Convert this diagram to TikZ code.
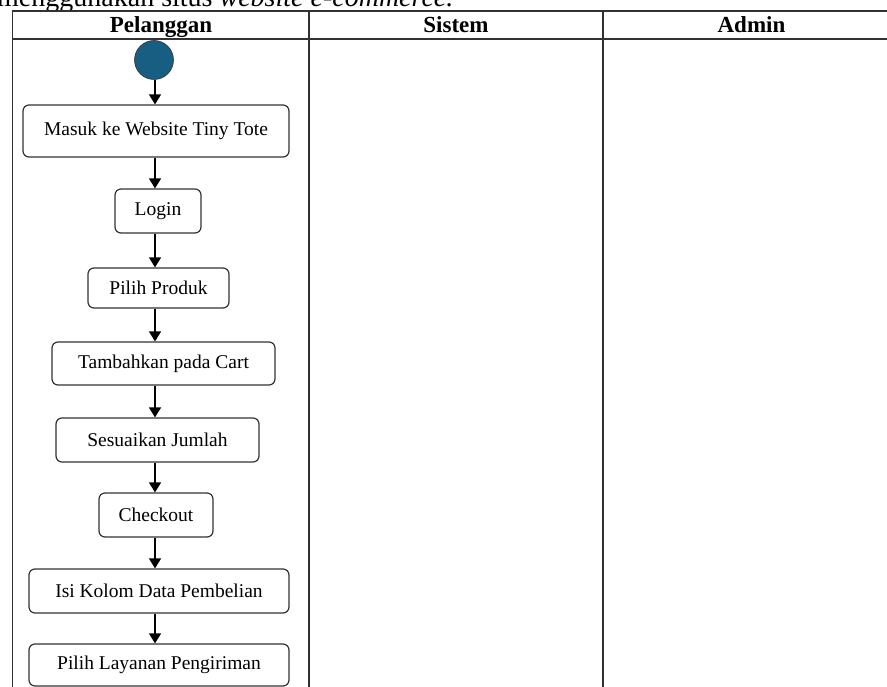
\documentclass[tikz,border=0pt]{standalone}
\usepackage{fontspec}
\setmainfont{Liberation Serif}
\usetikzlibrary{arrows.meta}
\definecolor{garis}{RGB}{50,50,50}
\definecolor{awal}{RGB}{23,94,130}

\begin{document}
\begin{tikzpicture}[x=1pt, y=-1pt,
    aksi/.style={draw=garis, line width=1.2pt, rounded corners=6pt, minimum height=44pt, inner sep=0pt, font=\fontsize{19.5}{22}\selectfont},
    judul/.style={font=\fontsize{23}{26}\selectfont\bfseries, anchor=base},
    lajur/.style={garis, line width=1.8pt},
    panah/.style={-{Triangle[width=12pt,length=10pt]}, line width=1.4pt}]
    \useasboundingbox (0,0) rectangle (887,687);
    \clip (0,0) rectangle (887,687);
    \node[anchor=base west, inner sep=0pt, font=\fontsize{28}{32}\selectfont] (kalimat) at (-3,7) {menggunakan situs \textit{website e-commerce.}};
    % swimlane
    \draw[lajur] (900,11) -- (12.5,11) -- (12.5,700);
    \draw[lajur] (12.5,39) -- (900,39);
    \draw[lajur] (309,11) -- (309,700);
    \draw[lajur] (603,11) -- (603,700);
    \node[judul] (pelanggan) at (161,33) {Pelanggan};
    \node[judul] (sistem) at (456,33) {Sistem};
    \node[judul] (admin) at (751.5,33) {Admin};
    % aktivitas pelanggan
    \node[circle, draw=garis, fill=awal, minimum size=39pt, inner sep=0pt, line width=0.6pt] (mulai) at (154,60) {};
    \node[aksi, minimum width=266pt, minimum height=52pt] (masuk) at (156,131) {Masuk ke Website Tiny Tote};
    \node[aksi, minimum width=86pt] (login) at (158,211) {Login};
    \node[aksi, minimum width=141pt, minimum height=40pt] (produk) at (158.5,288) {Pilih Produk};
    \node[aksi, minimum width=223pt, minimum height=43pt] (cart) at (163.5,363.5) {Tambahkan pada Cart};
    \node[aksi, minimum width=203pt] (jumlah) at (157.5,440) {Sesuaikan Jumlah};
    \node[aksi, minimum width=114pt] (checkout) at (156,515) {Checkout};
    \node[aksi, minimum width=260pt] (data) at (159,591) {Isi Kolom Data Pembelian};
    \node[aksi, minimum width=260pt, minimum height=42pt] (kirim) at (159,665) {Pilih Layanan Pengiriman};
    \coordinate (jalur) at (155,0);
    \foreach \a/\b in {mulai/masuk, masuk/login, login/produk, produk/cart, cart/jumlah, jumlah/checkout, checkout/data, data/kirim}
        \draw[panah] (\a.south -| jalur) -- (\b.north -| jalur);
\end{tikzpicture}
\end{document}
